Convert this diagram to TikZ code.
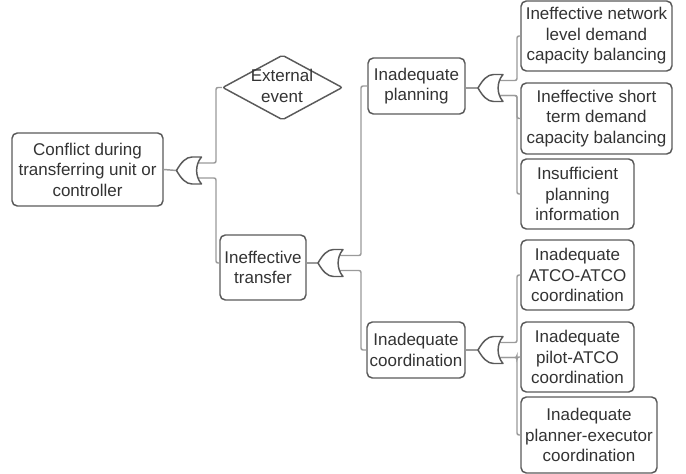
\documentclass[tikz,border=0pt]{standalone}
\usepackage{fontspec}
\setmainfont{Liberation Sans}
\usetikzlibrary{shapes.geometric}
\definecolor{boxline}{HTML}{5A5A5A}
\definecolor{wire}{HTML}{9A9A9A}
\definecolor{ink}{HTML}{333333}
\begin{document}
\begin{tikzpicture}[x=0.75pt,y=-0.75pt,
  every node/.style={font=\fontsize{12.75}{15.4}\selectfont, text=ink},
  event/.style={draw=boxline, line width=1.1pt, rounded corners=4pt, fill=white,
    align=center, inner sep=0pt},
  wirepath/.style={draw=wire, line width=1.1pt, rounded corners=1.5pt},
  orgate/.style={minimum width=18.75pt, minimum height=20.25pt, inner sep=0pt, outer sep=0pt},
  gateline/.style={draw=boxline, line width=1.1pt, fill=white, line join=round}]
\useasboundingbox (0,0) rectangle (686,474);

% top event
\node[event, minimum width=113.25pt, minimum height=54.75pt] (conf) at (87.5,169.5)
  {Conflict during\\transferring unit or\\controller};

% external (undeveloped) event
\node[diamond, draw=boxline, line width=1.1pt, fill=white, rounded corners=1.5pt,
  minimum width=90pt, minimum height=48.75pt, inner sep=0pt] (ext) at (282.5,87.5) {};
\node[align=center, inner sep=0pt] (extlabel) at (282,86) {External\\event};

% intermediate events
\node[event, minimum width=64.5pt, minimum height=48.75pt] (trans) at (263,267.5)
  {Ineffective\\transfer};
\node[event, minimum width=72.75pt, minimum height=42pt] (plan) at (416.5,86)
  {Inadequate\\planning};
\node[event, minimum width=73.5pt, minimum height=42pt] (coord) at (416,350)
  {Inadequate\\coordination};

% basic events, planning branch
\node[event, minimum width=113.25pt, minimum height=52.5pt] (b1) at (596.5,36)
  {Ineffective network\\level demand\\capacity balancing};
\node[event, minimum width=113.25pt, minimum height=53.25pt] (b2) at (596.5,118.5)
  {Ineffective short\\term demand\\capacity balancing};
\node[event, minimum width=84.75pt, minimum height=52.5pt] (b3) at (577.5,194)
  {Insufficient\\planning\\information};

% basic events, coordination branch
\node[event, minimum width=84.75pt, minimum height=52.5pt] (c1) at (577.5,275)
  {Inadequate\\ATCO-ATCO\\coordination};
\node[event, minimum width=84.75pt, minimum height=52.5pt] (c2) at (577.5,357)
  {Inadequate\\pilot-ATCO\\coordination};
\node[event, minimum width=102pt, minimum height=57pt] (c3) at (589,435)
  {Inadequate\\planner-executor\\coordination};

% OR gates (output at the left tip)
\node[orgate] (g1) at (189,170.5) {};
\node[orgate] (g2) at (330.5,263) {};
\node[orgate] (g3) at (490.5,88) {};
\node[orgate] (g4) at (490.5,350) {};

% gate input points and vertical buses
\foreach \g in {g1,g2,g3,g4}{
  \coordinate (\g-a) at ([shift={(6,-7.5)}]\g.center);
  \coordinate (\g-b) at ([shift={(6,7.5)}]\g.center);
}
\coordinate (bus1) at (216,0);
\coordinate (bus2) at (361,0);
\coordinate (bus3) at (517,0);

% gate outputs
\draw[wirepath] (conf.east) -- (g1.west);
\draw[wirepath] (trans.east |- g2.west) -- (g2.west);
\draw[wirepath] (plan.east |- g3.west) -- (g3.west);
\draw[wirepath] (coord.east) -- (g4.west);

% gate inputs
\draw[wirepath] (g1-a) -- (g1-a -| bus1) |- (ext.west);
\draw[wirepath] (g1-b) -- (g1-b -| bus1) |- (trans.west |- g2.west);
\draw[wirepath] (g2-a) -- (g2-a -| bus2) |- (plan.west);
\draw[wirepath] (g2-b) -- (g2-b -| bus2) |- (coord.west);
\draw[wirepath] (g3-a) -- (g3-a -| bus3) |- (b1.west);
\draw[wirepath] (g3-b) -- (g3-b -| bus3) |- (b2.west);
\draw[wirepath] (g3-b) -- (g3-b -| bus3) |- (b3.west);
\draw[wirepath] (g4-a) -- (g4-a -| bus3) |- (c1.west);
\draw[wirepath] (g4-b) -- (g4-b -| bus3) |- (c2.west);
\draw[wirepath] (g4-b) -- (g4-b -| bus3) |- (c3.west);

% OR gate symbols
\foreach \g in {g1,g2,g3,g4}{
  \draw[gateline, shift={(\g.center)}]
    (-12.5,0) .. controls (-8,-8) and (-3,-13.5) .. (3,-13.5) -- (12.5,-13.5)
    .. controls (6,-6) and (6,6) .. (12.5,13.5) -- (3,13.5)
    .. controls (-3,13.5) and (-8,8) .. cycle;
}
\end{tikzpicture}
\end{document}
